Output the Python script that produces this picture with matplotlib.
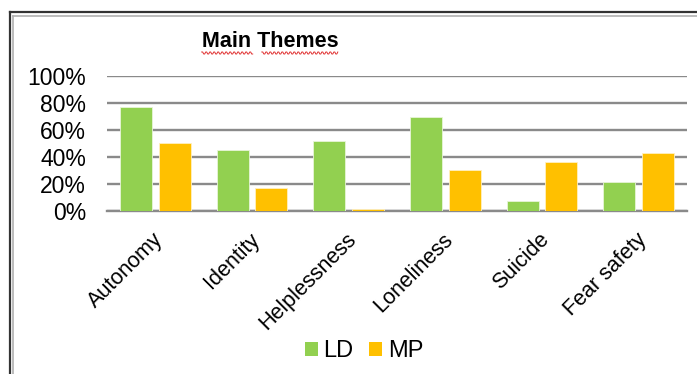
import numpy as np
import matplotlib
matplotlib.use("Agg")
import matplotlib.pyplot as plt
import matplotlib.transforms as mtransforms
from matplotlib.lines import Line2D
from matplotlib.patches import Patch

plt.rcParams['font.family'] = ['Liberation Sans', 'DejaVu Sans']

categories = ["Autonomy", "Identity", "Helplessness", "Loneliness", "Suicide", "Fear safety"]
ld_values = [0.77, 0.45, 0.52, 0.695, 0.075, 0.215]
mp_values = [0.50, 0.17, 0.015, 0.30, 0.36, 0.425]
series_names = ["LD", "MP"]
ytick_values = [0, 0.2, 0.4, 0.6, 0.8, 1.0]
ytick_labels = ["0%", "20%", "40%", "60%", "80%", "100%"]

GREEN = "#92D050"
ORANGE = "#FFC000"
GRID = "#8a8a8a"

W, H = 697, 374
fig = plt.figure(figsize=(W / 100, H / 100), dpi=100)
ax = fig.add_axes([107 / W, 1 - 211 / H, (687 - 107) / W, (211 - 75.7) / H])

x = np.arange(len(categories))
width = 0.33
ax.bar(x - 0.2, ld_values, width, color=GREEN, edgecolor="#e8f5d8", linewidth=0.6, zorder=3)
ax.bar(x + 0.2, mp_values, width, color=ORANGE, edgecolor="#fff0c0", linewidth=0.6, zorder=3)

ax.set_xlim(-0.5, len(categories) - 0.5)
ax.set_ylim(0, 1.0)
ax.set_yticks(ytick_values)
ax.set_yticklabels(ytick_labels, fontsize=16.5)
ax.tick_params(axis="y", length=0, pad=15)
ax.yaxis.grid(True, color=GRID, linewidth=1.7, zorder=0)
ax.set_axisbelow(True)

ax.set_xticks(x)
ax.set_xticklabels(categories, fontsize=15.5, rotation=45, ha="right", rotation_mode="anchor")
ax.tick_params(axis="x", length=0, pad=13)
shift = mtransforms.ScaledTranslation(-3 / 100, 0, fig.dpi_scale_trans)
for lbl in ax.get_xticklabels():
    lbl.set_transform(lbl.get_transform() + shift)

for side in ["top", "right", "left"]:
    ax.spines[side].set_visible(False)
ax.spines["bottom"].set_color(GRID)
ax.spines["bottom"].set_linewidth(1.7)

# Title with spell-check underline
title = fig.text(270 / W, 1 - 41.5 / H, "Main Themes", fontsize=15.5, fontweight="bold",
                 ha="center", va="center")

# Legend
handles = [Patch(facecolor=GREEN, edgecolor="none"), Patch(facecolor=ORANGE, edgecolor="none")]
fig.legend(handles, series_names, loc="center", bbox_to_anchor=(364 / W, 1 - 351 / H),
           ncol=2, frameon=False, fontsize=17, handlelength=0.55, handleheight=0.55,
           handletextpad=0.25, columnspacing=0.65, borderpad=0)

# Double frame around the chart area
fig.add_artist(Line2D([9.5 / W, 9.5 / W], [0, 1 - 11.5 / H], transform=fig.transFigure,
                      color="#333333", linewidth=1.6))
fig.add_artist(Line2D([9.5 / W, 1], [1 - 11.5 / H, 1 - 11.5 / H], transform=fig.transFigure,
                      color="#333333", linewidth=1.6))
fig.add_artist(Line2D([13.5 / W, 13.5 / W], [0, 1 - 15.5 / H], transform=fig.transFigure,
                      color="#b0b0b0", linewidth=1.2))
fig.add_artist(Line2D([13.5 / W, 1], [1 - 15.5 / H, 1 - 15.5 / H], transform=fig.transFigure,
                      color="#b0b0b0", linewidth=1.2))

# Wavy red underline beneath the title words
fig.canvas.draw()
renderer = fig.canvas.get_renderer()
bb = title.get_window_extent(renderer)
y0 = bb.y0 - 1
words_px = [(bb.x0, bb.x0 + (bb.x1 - bb.x0) * 0.38), (bb.x0 + (bb.x1 - bb.x0) * 0.44, bb.x1)]
for a, b in words_px:
    xs = np.arange(a, b, 1.0)
    ys = y0 + 1.0 * np.where((np.arange(len(xs)) // 2) % 2 == 0, 1, -1)
    fig.add_artist(Line2D(xs / W, ys / H, transform=fig.transFigure, color="#e03030", linewidth=0.7))

fig.savefig("out.png", dpi=100)
